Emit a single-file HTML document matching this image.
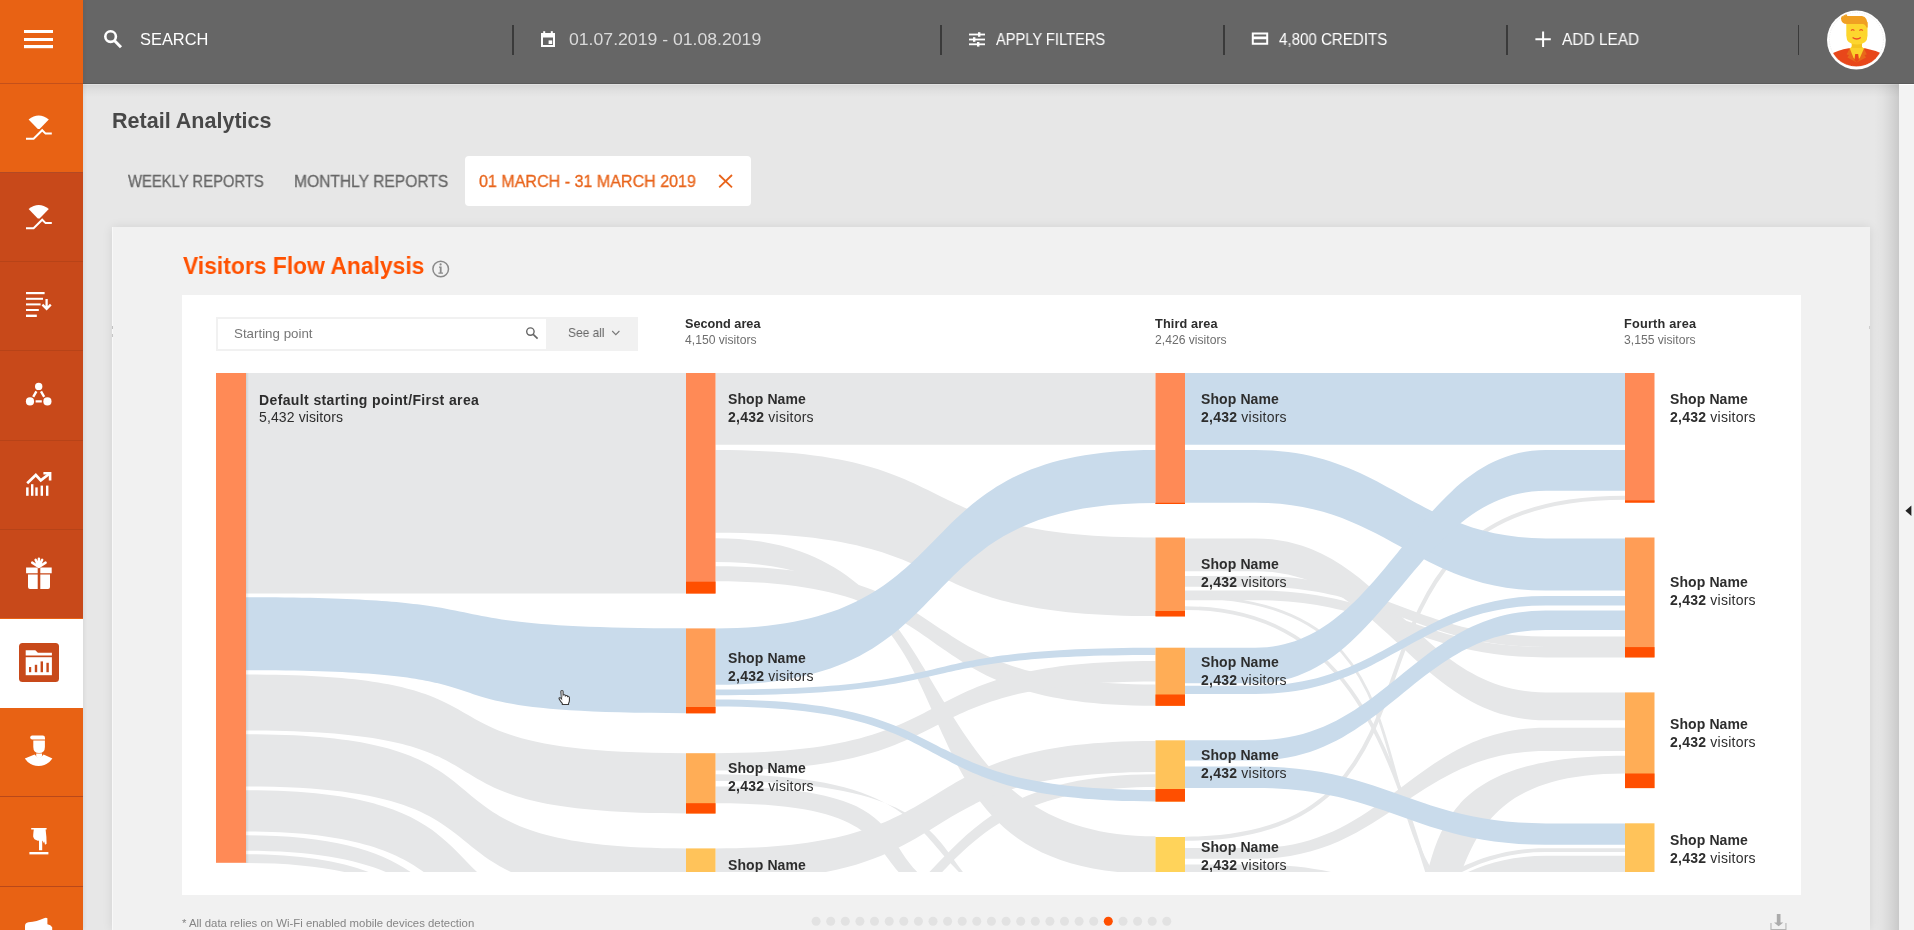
<!DOCTYPE html>
<html lang="en">
<head>
<meta charset="utf-8">
<title>Retail Analytics</title>
<style>
*{box-sizing:border-box;margin:0;padding:0}
html,body{width:1914px;height:930px;overflow:hidden}
body{position:relative;background:#e7e7e7;font-family:"Liberation Sans",sans-serif;color:#333}
.abs{position:absolute}
/* top bar */
#topbar{position:absolute;left:83px;top:0;width:1831px;height:84px;background:#666666;border-bottom:1px solid #5b5b5b;z-index:5}
#tbshadow{position:absolute;left:83px;top:84px;width:1831px;height:13px;background:linear-gradient(to bottom,#e2e2e2 0,#e2e2e2 1px,#d7d7d7 1.5px,#dedede 5px,#e7e7e7 13px);z-index:2}
.tb-txt{position:absolute;top:0;height:83px;line-height:78px;color:#fff;white-space:nowrap;font-size:16px}
.div{position:absolute;top:25px;height:30px;width:2px;background:#3a3a3a}
/* sidebar */
#side{position:absolute;left:0;top:0;width:83px;height:930px;background:#e86214;z-index:6;box-shadow:1px 0 4px rgba(0,0,0,.07)}
.cell{position:absolute;left:0;width:83px}
.sep{position:absolute;left:0;width:83px;height:1px}
/* main */
#rightpanel{position:absolute;left:1898.5px;top:84px;width:16px;height:846px;background:#f3f3f3;border-top:1px solid #fff;z-index:3}
#rpshadow{position:absolute;left:1874px;top:84px;width:24.5px;height:846px;background:linear-gradient(to right,rgba(0,0,0,0) 0,rgba(0,0,0,.02) 8px,rgba(0,0,0,.05) 14px,rgba(0,0,0,.09) 20px,rgba(0,0,0,.125) 24.5px);z-index:3}
#card{position:absolute;left:112px;top:227px;width:1758px;height:703px;background:#f1f1f1;box-shadow:0 0 10px rgba(0,0,0,.09)}
#panel{position:absolute;left:182px;top:295px;width:1619px;height:600px;background:#fff}
.lbl{position:absolute;font-size:14px;line-height:17.5px;white-space:nowrap;color:#2d2d2d;letter-spacing:.1px}
.lbl span{letter-spacing:.24px}
.lbl b{font-weight:bold}
.hdr,.lbl{will-change:transform}
.hdr{position:absolute;white-space:nowrap;font-size:12.15px;line-height:15.1px;color:#6e6e6e}
.hdr b{display:block;color:#2d2d2d;font-size:12.7px;position:relative;top:-.7px}
</style>
</head>
<body>

<!-- ============ SIDEBAR ============ -->
<div id="side">
  <div class="cell" style="top:172px;height:446px;background:#c8491a"></div>
  <div class="cell" style="top:618.7px;height:89.5px;background:#fff"></div>
  <div class="sep" style="top:83px;background:#c4501a"></div>
  <div class="sep" style="top:172px;background:#b24a24"></div>
  <div class="sep" style="top:261px;background:#b74318"></div>
  <div class="sep" style="top:350px;background:#b74318"></div>
  <div class="sep" style="top:440px;background:#b74318"></div>
  <div class="sep" style="top:529px;background:#b74318"></div>
  <div class="sep" style="top:796px;background:#b9481a"></div>
  <div class="sep" style="top:886px;background:#b9481a"></div>
  <svg class="abs" style="left:0;top:0" width="83" height="930" viewBox="0 0 83 930">
    <g fill="#fff" stroke="none">
  <!-- hamburger -->
  <rect x="24" y="30" width="29" height="3"/>
  <rect x="24" y="38" width="29" height="3"/>
  <rect x="24" y="45" width="29" height="3.2"/>
  <!-- wifi/line icon 1 (center y ~127) -->
  <g id="wf">
    <path d="M28.6,119.6 Q38.7,111.2 48.8,119.6 L39.6,129 L37.8,129 Z"/>
    <path d="M26,138.8 L33.6,138.8 L42.2,130.2 L45.6,133.6 L51.8,133.6" fill="none" stroke="#fff" stroke-width="2"/>
  </g>
  <!-- wifi/line icon 2 -->
  <g transform="translate(0,89.5)">
    <path d="M28.6,119.6 Q38.7,111.2 48.8,119.6 L39.6,129 L37.8,129 Z"/>
    <path d="M26,138.8 L33.6,138.8 L42.2,130.2 L45.6,133.6 L51.8,133.6" fill="none" stroke="#fff" stroke-width="2"/>
  </g>
  <!-- funnel list + arrow -->
  <rect x="26" y="292" width="18.6" height="2.2"/>
  <rect x="26" y="297.8" width="17" height="2"/>
  <rect x="26" y="303.4" width="14.6" height="2"/>
  <rect x="26" y="309" width="12.8" height="2"/>
  <rect x="26" y="314.6" width="10.8" height="2.4"/>
  <path d="M46.6,299 V308.4 M42.4,304.6 L46.6,308.8 L50.8,304.6" fill="none" stroke="#fff" stroke-width="2.3"/>
  <!-- triangle nodes -->
  <circle cx="38.7" cy="386.4" r="3.7"/>
  <circle cx="30" cy="401.4" r="4.1"/>
  <circle cx="47.4" cy="401.4" r="4.1"/>
  <path d="M36.4,391.4 L33.2,396.8 M41,391.4 L44.2,396.8 M35.6,401.4 L41.8,401.4" stroke="#fff" stroke-width="2.4" fill="none"/>
  <!-- chart with arrow -->
  <rect x="26.1" y="487.4" width="2.5" height="8.4"/>
  <rect x="31" y="484.2" width="2.4" height="11.6"/>
  <rect x="35.3" y="487.4" width="2.4" height="8.4"/>
  <rect x="40.6" y="485.6" width="2.4" height="10.2"/>
  <rect x="46" y="485.6" width="2.4" height="10.2"/>
  <path d="M27.2,483.2 L35.8,475 L40.8,480.4 L49.4,473.8" fill="none" stroke="#fff" stroke-width="2.7"/>
  <path d="M43.4,472 L51.4,472 L51.4,480.6 L48.8,480.6 L48.8,474.6 L43.4,474.6 Z"/>
  <!-- gift -->
  <path d="M26.1,567.4 h11.6 v5.8 h-11.6 z M40.3,567.4 h11.4 v5.8 h-11.4 z"/>
  <path d="M28,574.4 h9.7 v14.6 h-7.7 q-2,0 -2,-2 z M40.3,574.4 h9.7 v12.6 q0,2 -2,2 h-7.7 z"/>
  <path d="M38.9,567 L32.2,562.6 M38.9,567 L35.6,559.8 M38.9,567 L38.9,558.8 M38.9,567 L42.2,559.8 M38.9,567 L45.6,562.6" fill="none" stroke="#fff" stroke-width="2.5" stroke-linecap="round"/>
  <!-- active: folder chart in rounded square -->
  <rect x="19" y="643" width="40" height="39" rx="3.5" fill="#c8491a"/>
  <path d="M25.7,650.2 h9.6 l2.6,2.6 h14 v2.6 h-26.2 z"/>
  <path d="M25.7,657.2 h26.2 v18 h-26.2 z"/>
  <g fill="#c8491a">
    <rect x="29" y="667" width="2.2" height="5.2"/>
    <rect x="34.8" y="664.8" width="2.4" height="7.4"/>
    <rect x="40.6" y="661.4" width="2.4" height="10.8"/>
    <rect x="46.4" y="662.8" width="2.4" height="9.4"/>
  </g>
  <!-- person -->
  <path d="M30.2,737.6 q0,-2 2,-2 h10.6 q2.2,0 2.2,2.4 v1.6 h-12.6 q-2.2,0 -2.2,-2 z"/>
  <path d="M33.3,740.6 h11.6 v6.4 q0,6 -5.8,6 q-5.8,0 -5.8,-6 z"/>
  <path d="M24.8,758.4 L34.6,754.6 Q39.1,760.6 43.6,754.6 L52.4,758.4 Q47,766 38.6,766 Q30,766 24.8,758.4 Z"/>
  <path d="M36.2,753.4 h5.8 v3 l-2.9,2 l-2.9,-2 z"/>
  <!-- hand pointing down -->
  <path d="M31.2,828 h15.4 v1.4 h-1 q1,7 1,14.4 l-1.6,1 q-0.4,-2.4 -1,-3.6 l-0.4,2 q-0.6,-2 -1.4,-2.8 v9.8 h-3.2 v-9.6 q-1.6,0.6 -2.8,-0.6 q-1.6,-0.2 -2.2,-1.6 q-1.2,-1.4 -0.8,-3.4 q0.2,-3 0.6,-5.600 h-2.600 z"/>
  <rect x="29.4" y="852" width="19" height="2.4"/>
  <!-- megaphone (cut) -->
  <path d="M25,930 v-4 q0,-3.4 3.4,-3.8 q9,-0.6 15,-3.6 q2.6,-1.6 4,-0.4 v6 q3.4,0.6 4.8,3 v2.8 z"/>
</g>

  </svg>
</div>

<!-- ============ TOP BAR ============ -->
<div id="topbar">
    <!-- coordinates inside #topbar are page-x minus 83 -->
  <svg class="abs" style="left:0;top:0" width="1831" height="83" viewBox="83 0 1831 83">
    <!-- search icon -->
    <circle cx="110.6" cy="36.6" r="5.3" fill="none" stroke="#fff" stroke-width="2.6"/>
    <path d="M114.6,40.8 L121,47.2" stroke="#fff" stroke-width="3" fill="none"/>
    <!-- calendar -->
    <path d="M541,33 h14 v14 h-14 z M543,37.4 v7.6 h10 v-7.6 z" fill="#fff" fill-rule="evenodd"/>
    <rect x="543.2" y="31.2" width="2" height="3" fill="#fff"/>
    <rect x="550.8" y="31.2" width="2" height="3" fill="#fff"/>
    <rect x="548.6" y="40.4" width="3.6" height="3.6" fill="#fff"/>
    <!-- filter icon -->
    <g fill="#fff">
      <rect x="969" y="33.6" width="16" height="1.8"/>
      <rect x="969" y="38.6" width="16" height="1.8"/>
      <rect x="969" y="43.4" width="16" height="1.8"/>
      <rect x="978" y="32.2" width="2.4" height="4.6"/>
      <rect x="973" y="37.2" width="2.4" height="4.6"/>
      <rect x="977" y="42" width="2.4" height="4.6"/>
    </g>
    <!-- credit card -->
    <path d="M1251.8,32.6 h16.4 v12.2 h-16.4 z M1253.8,39.2 v3.6 h12.4 v-3.6 z M1253.8,34.6 v1.8 h12.4 v-1.8 z" fill="#fff" fill-rule="evenodd"/>
    <!-- plus -->
    <path d="M1535.4,39.2 h15.4 M1543.1,31.6 v15.4" stroke="#fff" stroke-width="2" fill="none"/>
    <!-- avatar -->
    <g>
      <circle cx="1856.4" cy="40" r="29.4" fill="#fff"/>
      <clipPath id="avc"><circle cx="1856.4" cy="39.4" r="27.2"/></clipPath>
      <g clip-path="url(#avc)">
        <path d="M1830,70 V54.6 Q1838,50 1848.6,48.2 L1856.6,49 L1865,48.2 Q1875,50 1884,54.6 V70 Z" fill="#e8471a"/>
        <path d="M1849.6,48.4 L1846.6,54.4 L1849,55 L1847.4,57.6 L1856.6,62.6 L1866,57.600 L1864.400,55 L1866.800,54.400 L1864,48.400 Z" fill="#e8691a"/>
        <path d="M1849.800,48.600 L1853.400,45 L1859.800,45 L1864,48.600 L1860,57.400 L1856.700,61.400 L1853.400,57.400 Z" fill="#fbd12a"/>
        <path d="M1855.200,54 L1858.200,54 L1859,60 L1856.700,62.600 L1854.400,60 Z" fill="#e8471a"/>
        <rect x="1851.700" y="41" width="10.300" height="7" fill="#f4c41f"/>
        <path d="M1846.300,22 H1867.500 V35.400 Q1867.500,44.600 1856.900,44.600 Q1846.300,44.600 1846.300,35.400 Z" fill="#fdd62e"/>
        <path d="M1841,18.400 Q1841,14 1844.600,13.600 Q1846.600,13.600 1847.400,16 L1862,16 Q1868,16.600 1867.700,27.400 L1866.400,27.400 Q1865.400,24.200 1862.600,24.100 H1847 Q1841.200,23.600 1841,18.400 Z" fill="#f0a023"/>
        <path d="M1851,30.600 Q1852.700,28.600 1854.400,30.600 M1859.400,30.600 Q1861.100,28.600 1862.800,30.600" stroke="#ee5a24" stroke-width="1.100" fill="none"/>
        <path d="M1852.600,37.400 Q1856.700,40.600 1860.800,37.400" stroke="#ee4a24" stroke-width="1.300" fill="none"/>
      </g>
      <circle cx="1856.400" cy="39.600" r="27" fill="none" stroke="#dcdcdc" stroke-width=".5" stroke-dasharray="1.2 1.2"/>
    </g>
  </svg>
  <div class="div" style="left:429px"></div>
  <div class="div" style="left:857px"></div>
  <div class="div" style="left:1140px"></div>
  <div class="div" style="left:1423px"></div>
  <div class="div" style="left:1715px;width:1px"></div>
  <div class="abs" style="left:57.46px;top:29.22px;font-size:16.2px;line-height:1.25;white-space:nowrap;transform-origin:0 0;transform:scaleX(1.0140);will-change:transform;color:#fff">SEARCH</div>
<div class="abs" style="left:486.23px;top:29.12px;font-size:17.2px;line-height:1.25;white-space:nowrap;transform-origin:0 0;transform:scaleX(1.0260);will-change:transform;color:#dadada">01.07.2019 - 01.08.2019</div>
<div class="abs" style="left:912.80px;top:30.24px;font-size:15.8px;line-height:1.25;white-space:nowrap;transform-origin:0 0;transform:scaleX(0.9279);will-change:transform;color:#fff">APPLY FILTERS</div>
<div class="abs" style="left:1196.07px;top:30.24px;font-size:15.8px;line-height:1.25;white-space:nowrap;transform-origin:0 0;transform:scaleX(0.9560);will-change:transform;color:#fff">4,800 CREDITS</div>
<div class="abs" style="left:1479.01px;top:30.24px;font-size:15.8px;line-height:1.25;white-space:nowrap;transform-origin:0 0;transform:scaleX(0.9778);will-change:transform;color:#fff">ADD LEAD</div>

</div>

<!-- ============ MAIN ============ -->
<div id="tbshadow"></div>
<div id="rpshadow"></div>
<div id="rightpanel"></div>

<div class="abs" style="left:465px;top:156px;width:286px;height:50px;background:#fff;border-radius:4px"></div>
<svg class="abs" style="left:716px;top:172px" width="20" height="18" viewBox="716 172 20 18"><path d="M719.2,175 L732,187.4 M732,175 L719.2,187.4" stroke="#e8641b" stroke-width="1.8" fill="none"/></svg>

<div id="card"></div>
<svg class="abs" style="left:430px;top:258px" width="22" height="22" viewBox="430 258 22 22">
  <circle cx="440.7" cy="269" r="7.8" fill="none" stroke="#8a8a8a" stroke-width="1.5"/>
  <path d="M439,266.6 h2.6 v6 h1.4 v1.2 h-4.6 v-1.2 h1.4 v-4.8 h-0.8 z" fill="#8a8a8a"/>
  <circle cx="440.6" cy="264.4" r="1.1" fill="#8a8a8a"/>
</svg>

<div id="panel"></div>

<!-- search input -->
<div class="abs" style="left:216px;top:317px;width:422px;height:34px;background:#f1f1f1"></div>
<div class="abs" style="left:217.5px;top:319px;width:328.5px;height:30px;background:#fff"></div>
<svg class="abs" style="left:522px;top:324px" width="20" height="18" viewBox="522 324 20 18">
  <circle cx="530.4" cy="331.6" r="3.7" fill="none" stroke="#666" stroke-width="1.4"/>
  <path d="M533.2,334.4 L537.6,338.6" stroke="#666" stroke-width="1.6" fill="none"/>
</svg>
<svg class="abs" style="left:610px;top:328px" width="12" height="10" viewBox="610 328 12 10"><path d="M612.2,331 L615.8,334.6 L619.4,331" stroke="#777" stroke-width="1.1" fill="none"/></svg>

<div class="abs" style="left:111.87px;top:107.56px;font-size:21.2px;line-height:1.25;white-space:nowrap;transform-origin:0 0;transform:scaleX(1.0158);will-change:transform;font-weight:bold;color:#484848">Retail Analytics</div>
<div class="abs" style="left:128.25px;top:170.84px;font-size:16.4px;line-height:1.25;white-space:nowrap;transform-origin:0 0;transform:scaleX(0.9036);will-change:transform;color:#676767;-webkit-text-stroke:.3px #676767">WEEKLY REPORTS</div>
<div class="abs" style="left:294.41px;top:170.84px;font-size:16.4px;line-height:1.25;white-space:nowrap;transform-origin:0 0;transform:scaleX(0.9509);will-change:transform;color:#676767;-webkit-text-stroke:.3px #676767">MONTHLY REPORTS</div>
<div class="abs" style="left:479.37px;top:170.84px;font-size:16.4px;line-height:1.25;white-space:nowrap;transform-origin:0 0;transform:scaleX(0.9798);will-change:transform;color:#e8641b;-webkit-text-stroke:.3px #e8641b">01 MARCH - 31 MARCH 2019</div>
<div class="abs" style="left:182.84px;top:251.42px;font-size:24px;line-height:1.25;white-space:nowrap;transform-origin:0 0;transform:scaleX(0.9525);will-change:transform;font-weight:bold;color:#ff5100">Visitors Flow Analysis</div>
<div class="abs" style="left:234.22px;top:326.36px;font-size:13px;line-height:1.25;white-space:nowrap;transform-origin:0 0;transform:scaleX(1.0258);will-change:transform;color:#777">Starting point</div>
<div class="abs" style="left:568.41px;top:325.46px;font-size:13px;line-height:1.25;white-space:nowrap;transform-origin:0 0;transform:scaleX(0.9194);will-change:transform;color:#666">See all</div>
<div class="abs" style="left:181.89px;top:916.22px;font-size:11.2px;line-height:1.25;white-space:nowrap;transform-origin:0 0;transform:scaleX(1.0171);will-change:transform;color:#858585">* All data relies on Wi-Fi enabled mobile devices detection</div>
<!-- column headers -->
<div class="hdr" style="left:685.2px;top:318.3px"><b>Second area</b>4,150 visitors</div>
<div class="hdr" style="left:1154.7px;top:318.3px"><b style="letter-spacing:.13px">Third area</b>2,426 visitors</div>
<div class="hdr" style="left:1624.2px;top:318.3px"><b style="letter-spacing:.22px">Fourth area</b>3,155 visitors</div>

<!-- sankey -->
<svg class="abs" style="left:182px;top:295px" width="1619" height="577" viewBox="182 295 1619 577">
<g><path d="M246,373 L246,373 C549.6,373 382.4,373 686,373 L686,373 L686,593.6 L686,593.6 C382.4,593.6 549.6,593.6 246,593.6 L246,593.6Z" fill="#e6e7e8"/><path d="M246,674.6 L246,674.6 C549.6,674.6 382.4,753.2 686,753.2 L686,753.2 L686,813.4 L686,813.4 C382.4,813.4 549.6,730.4 246,730.4 L246,730.4Z" fill="#e6e7e8"/><path d="M246,734.2 L246,734.2 C549.6,734.2 382.4,848.4 686,848.4 L686,848.4 L686,897.6 L686,897.6 C382.4,897.6 549.6,786.5 246,786.5 L246,786.5Z" fill="#e6e7e8"/><path d="M246,790.3 L246,790.3 C549.6,790.3 382.4,931.3 686,931.3 L686,931.3 L686,999 L686,999 C382.4,999 549.6,831.5 246,831.5 L246,831.5Z" fill="#e6e7e8"/><path d="M246,835.3 L246,835.3 C549.6,835.3 382.4,1028.4 686,1028.4 L686,1028.4 L686,1029.6 L686,1029.6 C382.4,1029.6 549.6,850.8 246,850.8 L246,850.8Z" fill="#e6e7e8"/><path d="M246,854.3 L246,854.3 C549.6,854.3 382.4,1066 686,1066 L686,1066 L686,1050.5 L686,1050.5 C382.4,1050.5 549.6,862.9 246,862.9 L246,862.9Z" fill="#e6e7e8"/><path d="M715.5,373 L715.5,373 C979.5,373 891.5,373 1155.5,373 L1155.5,373 L1155.5,444.7 L1155.5,444.7 C891.5,444.7 979.5,444.7 715.5,444.7 L715.5,444.7Z" fill="#e6e7e8"/><path d="M715.5,450 L715.5,450 C979.5,450 891.5,537.5 1155.5,537.5 L1155.5,537.5 L1155.5,616 L1155.5,616 C891.5,616 979.5,532.8 715.5,532.8 L715.5,532.8Z" fill="#e6e7e8"/><path d="M715.5,538.3 L715.5,538.3 C979.5,538.3 891.5,836.3 1155.5,836.3 L1155.5,836.3 L1155.5,873.8 L1155.5,873.8 C851.9,873.8 1019.1,562 715.5,562 L715.5,562Z" fill="#e6e7e8"/><path d="M715.5,566.2 L715.5,566.2 C979.5,566.2 891.5,684.5 1155.5,684.5 L1155.5,684.5 L1155.5,705.8 L1155.5,705.8 C891.5,705.8 979.5,581.2 715.5,581.2 L715.5,581.2Z" fill="#e6e7e8"/><path d="M715.5,753.2 L715.5,753.2 C979.5,753.2 891.5,660.9 1155.5,660.9 L1155.5,660.9 L1155.5,681.5 L1155.5,681.5 C891.5,681.5 979.5,770.5 715.5,770.5 L715.5,770.5Z" fill="#e6e7e8"/><path d="M715.5,774.3 L715.5,774.3 C1032.3,774.3 847.5,925 1155.5,925 L1155.5,925 L1155.5,933 L1155.5,933 C847.5,933 1067.5,781.1 715.5,781.1 L715.5,781.1Z" fill="#e6e7e8"/><path d="M715.5,786.5 L715.5,786.5 C1023.5,786.5 759.5,920 1155.5,920 L1155.5,920 L1155.5,930 L1155.5,930 C759.5,930 1001.5,803.2 715.5,803.2 L715.5,803.2Z" fill="#e6e7e8"/><path d="M715.5,848.4 L715.5,848.4 C979.5,848.4 891.5,740.9 1155.5,740.9 L1155.5,740.9 L1155.5,772 L1155.5,772 C891.5,772 979.5,880.9 715.5,880.9 L715.5,880.9Z" fill="#e6e7e8"/><path d="M715.5,957.1 L715.5,957.1 C979.5,957.1 891.5,774.3 1155.5,774.3 L1155.5,774.3 L1155.5,786.9 L1155.5,786.9 C891.5,786.9 979.5,971.1 715.5,971.1 L715.5,971.1Z" fill="#e6e7e8"/><path d="M1185,538.4 L1255.4,538.4 C1386.1,538.4 1415.1,692.4 1545.8,692.4 L1625,692.4 L1625,720.3 L1545.8,720.3 C1415.1,720.3 1386.1,571.3 1255.4,571.3 L1185,571.3Z" fill="#e6e7e8"/><path d="M1185,576.1 L1255.4,576.1 C1386.1,576.1 1415.1,636.5 1545.8,636.5 L1625,636.5 L1625,647 L1545.8,647 C1415.1,647 1386.1,586.8 1255.4,586.8 L1185,586.8Z" fill="#e6e7e8"/><path d="M1185,590.6 L1255.4,590.6 C1386.1,590.6 1415.1,647 1545.8,647 L1625,647 L1625,657.4 L1545.8,657.4 C1415.1,657.4 1386.1,600.3 1255.4,600.3 L1185,600.3Z" fill="#e6e7e8"/><path d="M1185,608.1 L1185,608.1 C1493,608.1 1361,1100 1625,1100 L1625,1100" fill="none" stroke="#e6e7e8" stroke-width="3.7"/><path d="M1185,597 L1185,597 C1515,597 1273,960 1625,960 L1625,960" fill="none" stroke="#e6e7e8" stroke-width="2.8"/><path d="M1185,838.7 L1185,838.7 C1493,838.7 1295,497.7 1625,497.7 L1625,497.7" fill="none" stroke="#e6e7e8" stroke-width="4.1"/><path d="M1185,848 L1255.4,848 C1386.1,848 1415.1,727.7 1545.8,727.7 L1625,727.7 L1625,751 L1545.8,751 C1415.1,751 1386.1,858.7 1255.4,858.7 L1185,858.7Z" fill="#e6e7e8"/><path d="M1185,864.5 L1255.4,864.5 C1386.1,864.5 1415.1,921.8 1545.8,921.8 L1625,921.8 L1625,951.8 L1545.8,951.8 C1415.1,951.8 1386.1,880 1255.4,880 L1185,880Z" fill="#e6e7e8"/><path d="M1185,1040 L1185,1040 C1581,1040 1273,755.8 1625,755.8 L1625,755.8 L1625,773.5 L1625,773.5 C1339,773.5 1581,1060 1185,1060 L1185,1060Z" fill="#e6e7e8"/><path d="M1185,962.7 L1255.4,962.7 C1386.1,962.7 1415.1,848.3 1545.8,848.3 L1625,848.3 L1625,852 L1545.8,852 C1415.1,852 1386.1,974.6 1255.4,974.6 L1185,974.6Z" fill="#e6e7e8"/><path d="M1185,972.2 L1255.4,972.2 C1386.1,972.2 1415.1,855.8 1545.8,855.8 L1625,855.8 L1625,890 L1545.8,890 C1415.1,890 1386.1,1012.2 1255.4,1012.2 L1185,1012.2Z" fill="#e6e7e8"/></g>
<g><path d="M246,597.2 L246,597.2 C536.4,597.2 395.6,628.3 686,628.3 L686,628.3 L686,713.2 L686,713.2 C373.6,713.2 558.4,670.2 246,670.2 L246,670.2Z" fill="#c9dbeb"/><path d="M715.5,628.4 L715.5,628.4 C979.5,628.4 891.5,450 1155.5,450 L1155.5,450 L1155.5,503.1 L1155.5,503.1 C891.5,503.1 979.5,684.8 715.5,684.8 L715.5,684.8Z" fill="#c9dbeb"/><path d="M715.5,689.5 L715.5,689.5 C979.5,689.5 891.5,647.8 1155.5,647.8 L1155.5,647.8 L1155.5,655 L1155.5,655 C891.5,655 979.5,695.2 715.5,695.2 L715.5,695.2Z" fill="#c9dbeb"/><path d="M715.5,699.4 L715.5,699.4 C979.5,699.4 891.5,790 1155.5,790 L1155.5,790 L1155.5,801.4 L1155.5,801.4 C891.5,801.4 979.5,706.4 715.5,706.4 L715.5,706.4Z" fill="#c9dbeb"/><path d="M1185,373 L1255.4,373 C1386.1,373 1415.1,373 1545.8,373 L1625,373 L1625,444.7 L1545.8,444.7 C1415.1,444.7 1386.1,444.7 1255.4,444.7 L1185,444.7Z" fill="#c9dbeb"/><path d="M1185,450 L1255.4,450 C1386.1,450 1415.1,538.4 1545.8,538.4 L1625,538.4 L1625,590.6 L1545.8,590.6 C1415.1,590.6 1386.1,502.8 1255.4,502.8 L1185,502.8Z" fill="#c9dbeb"/><path d="M1185,647.7 L1255.4,647.7 C1386.1,647.7 1415.1,450 1545.8,450 L1625,450 L1625,490.8 L1545.8,490.8 C1415.1,490.8 1386.1,683.2 1255.4,683.2 L1185,683.2Z" fill="#c9dbeb"/><path d="M1185,685.8 L1255.4,685.8 C1386.1,685.8 1415.1,596.1 1545.8,596.1 L1625,596.1 L1625,605.4 L1545.8,605.4 C1415.1,605.4 1386.1,693.9 1255.4,693.9 L1185,693.9Z" fill="#c9dbeb"/><path d="M1185,740.3 L1255.4,740.3 C1386.1,740.3 1415.1,610.6 1545.8,610.6 L1625,610.6 L1625,630 L1545.8,630 C1415.1,630 1386.1,760.6 1255.4,760.6 L1185,760.6Z" fill="#c9dbeb"/><path d="M1185,766.5 L1255.4,766.5 C1386.1,766.5 1415.1,823.4 1545.8,823.4 L1625,823.4 L1625,844.8 L1545.8,844.8 C1415.1,844.8 1386.1,788 1255.4,788 L1185,788Z" fill="#c9dbeb"/></g>
<g><rect x="216" y="373" width="30" height="489.8" fill="#ff8a56"/><rect x="686" y="373" width="29.5" height="220.5" fill="#ff8a56"/><rect x="686" y="581.7" width="29.5" height="11.8" fill="#ff4f00"/><rect x="686" y="628.4" width="29.5" height="84.9" fill="#ff9d56"/><rect x="686" y="707" width="29.5" height="6.3" fill="#ff4f00"/><rect x="686" y="753.2" width="29.5" height="60.3" fill="#ffad56"/><rect x="686" y="803.2" width="29.5" height="10.3" fill="#ff4f00"/><rect x="686" y="848.4" width="29.5" height="23.6" fill="#ffc35a"/><rect x="1155.5" y="373" width="29.5" height="131" fill="#ff8a56"/><rect x="1155.5" y="502.8" width="29.5" height="1.2" fill="#ff4f00"/><rect x="1155.5" y="537.5" width="29.5" height="78.9" fill="#ff9d56"/><rect x="1155.5" y="611" width="29.5" height="5.4" fill="#ff4f00"/><rect x="1155.5" y="647.7" width="29.5" height="58.1" fill="#ffad56"/><rect x="1155.5" y="694.5" width="29.5" height="11.3" fill="#ff4f00"/><rect x="1155.5" y="740.3" width="29.5" height="61.3" fill="#ffc35a"/><rect x="1155.5" y="789" width="29.5" height="12.6" fill="#ff4f00"/><rect x="1155.5" y="837" width="29.5" height="35" fill="#ffd35a"/><rect x="1625" y="373" width="29.5" height="129.6" fill="#ff8a56"/><rect x="1625" y="500.4" width="29.5" height="2.2" fill="#ff4f00"/><rect x="1625" y="537.5" width="29.5" height="119.9" fill="#ff9d56"/><rect x="1625" y="647.1" width="29.5" height="10.3" fill="#ff4f00"/><rect x="1625" y="692.4" width="29.5" height="95.7" fill="#ffad56"/><rect x="1625" y="773.5" width="29.5" height="14.6" fill="#ff4f00"/><rect x="1625" y="823.3" width="29.5" height="48.7" fill="#ffc35a"/></g>
</svg>
<!-- subtle shadow on first node -->
<div class="abs" style="left:246px;top:373px;width:3px;height:490px;background:linear-gradient(90deg,rgba(0,0,0,.10),rgba(0,0,0,0))"></div>

<!-- node labels -->
<div class="lbl" style="left:259.4px;top:391.7px;line-height:16.8px"><b style="letter-spacing:.38px">Default starting point/First area</b><br><span style="letter-spacing:.12px">5,432 visitors</span></div>
<div class="lbl" style="left:728.0px;top:391.3px;"><b>Shop Name</b><br><span><b>2,432</b> visitors</span></div>
<div class="lbl" style="left:728.0px;top:649.8px;"><b>Shop Name</b><br><span><b>2,432</b> visitors</span></div>
<div class="lbl" style="left:728.0px;top:759.5px;"><b>Shop Name</b><br><span><b>2,432</b> visitors</span></div>
<div class="lbl" style="left:728.0px;top:856.9px;height:15.1px;overflow:hidden;"><b>Shop Name</b><br><span><b>2,432</b> visitors</span></div>
<div class="lbl" style="left:1200.5px;top:391.3px;"><b>Shop Name</b><br><span><b>2,432</b> visitors</span></div>
<div class="lbl" style="left:1200.5px;top:556.3px;"><b>Shop Name</b><br><span><b>2,432</b> visitors</span></div>
<div class="lbl" style="left:1200.5px;top:654.3px;"><b>Shop Name</b><br><span><b>2,432</b> visitors</span></div>
<div class="lbl" style="left:1200.5px;top:746.6px;"><b>Shop Name</b><br><span><b>2,432</b> visitors</span></div>
<div class="lbl" style="left:1200.5px;top:839.2px;height:32.8px;overflow:hidden;"><b>Shop Name</b><br><span><b>2,432</b> visitors</span></div>
<div class="lbl" style="left:1669.5px;top:391.3px;"><b>Shop Name</b><br><span><b>2,432</b> visitors</span></div>
<div class="lbl" style="left:1669.5px;top:574.0px;"><b>Shop Name</b><br><span><b>2,432</b> visitors</span></div>
<div class="lbl" style="left:1669.5px;top:715.5px;"><b>Shop Name</b><br><span><b>2,432</b> visitors</span></div>
<div class="lbl" style="left:1669.5px;top:831.8px;"><b>Shop Name</b><br><span><b>2,432</b> visitors</span></div>

<!-- cursor -->
<svg class="abs" style="left:555.6px;top:687.6px" width="18.4" height="19" viewBox="0 0 16 18" preserveAspectRatio="none">
  <path d="M4.2,3.6 q0,-1.2 1,-1.2 q1,0 1,1.2 v3.4 q0.4,-0.8 1.2,-0.6 q0.8,0.2 0.8,1 q0.6,-0.6 1.2,-0.3 q0.7,0.3 0.7,1 q0.6,-0.4 1.1,0 q0.5,0.4 0.5,1.2 v2.6 q0,1.6 -0.8,2.6 v1.2 h-5.4 v-1.2 q-1.4,-1.4 -2.6,-3.8 q-0.6,-1.2 0.2,-1.5 q0.8,-0.3 1.7,1 z" fill="#fff" stroke="#3c3c3c" stroke-width=".95"/>
  <path d="M4.7,3.4 q0,-0.700 0.500,-0.700 q0.500,0 0.500,0.700 v5.600 h-1 z" fill="#9a9a9a"/>
</svg>

<!-- footer -->
<svg class="abs" style="left:806px;top:914px" width="372" height="16" viewBox="806 914 372 16"><circle cx="816.1" cy="921.3" r="4.5" fill="#e2e2e2"/><circle cx="830.7" cy="921.3" r="4.5" fill="#e2e2e2"/><circle cx="845.3" cy="921.3" r="4.5" fill="#e2e2e2"/><circle cx="859.9" cy="921.3" r="4.5" fill="#e2e2e2"/><circle cx="874.5" cy="921.3" r="4.5" fill="#e2e2e2"/><circle cx="889.2" cy="921.3" r="4.5" fill="#e2e2e2"/><circle cx="903.8" cy="921.3" r="4.5" fill="#e2e2e2"/><circle cx="918.4" cy="921.3" r="4.5" fill="#e2e2e2"/><circle cx="933.0" cy="921.3" r="4.5" fill="#e2e2e2"/><circle cx="947.6" cy="921.3" r="4.5" fill="#e2e2e2"/><circle cx="962.2" cy="921.3" r="4.5" fill="#e2e2e2"/><circle cx="976.8" cy="921.3" r="4.5" fill="#e2e2e2"/><circle cx="991.4" cy="921.3" r="4.5" fill="#e2e2e2"/><circle cx="1006.1" cy="921.3" r="4.5" fill="#e2e2e2"/><circle cx="1020.7" cy="921.3" r="4.5" fill="#e2e2e2"/><circle cx="1035.3" cy="921.3" r="4.5" fill="#e2e2e2"/><circle cx="1049.9" cy="921.3" r="4.5" fill="#e2e2e2"/><circle cx="1064.5" cy="921.3" r="4.5" fill="#e2e2e2"/><circle cx="1079.1" cy="921.3" r="4.5" fill="#e2e2e2"/><circle cx="1093.7" cy="921.3" r="4.5" fill="#e2e2e2"/><circle cx="1108.3" cy="921.3" r="4.5" fill="#ff4f00"/><circle cx="1123.0" cy="921.3" r="4.5" fill="#e2e2e2"/><circle cx="1137.6" cy="921.3" r="4.5" fill="#e2e2e2"/><circle cx="1152.2" cy="921.3" r="4.5" fill="#e2e2e2"/><circle cx="1166.8" cy="921.3" r="4.5" fill="#e2e2e2"/></svg>
<svg class="abs" style="left:1768px;top:912px" width="22" height="18" viewBox="1768 912 22 18">
  <path d="M1776.8,914 h3.7 v8.4 h2.8 l-4.65,3.8 l-4.65,-3.8 h2.8 z" fill="#ababab"/>
  <path d="M1770,923 h1.9 v6 h13.1 v-6 h1.8 v7 h-16.8 z" fill="#cdcdcd"/>
  <rect x="1771" y="929" width="15" height="1" fill="#b4b4b4"/>
</svg>
<!-- right collapse arrow -->
<svg class="abs" style="left:1902px;top:503px;z-index:4" width="12" height="16" viewBox="1902 503 12 16"><path d="M1911.4,505.6 V516 L1905.4,510.8 Z" fill="#222"/></svg>
<!-- tiny edge marks -->
<div class="abs" style="left:112px;top:227px;width:1px;height:703px;background:#f8f8f8"></div>
<div class="abs" style="left:112px;top:326px;width:1.2px;height:2.6px;background:#c2c2c2"></div>
<div class="abs" style="left:112px;top:334.4px;width:1.2px;height:2.2px;background:#c6c6c6"></div>
<div class="abs" style="left:1869px;top:326px;width:1.2px;height:2.6px;background:#cfcfcf"></div>


</body>
</html>
